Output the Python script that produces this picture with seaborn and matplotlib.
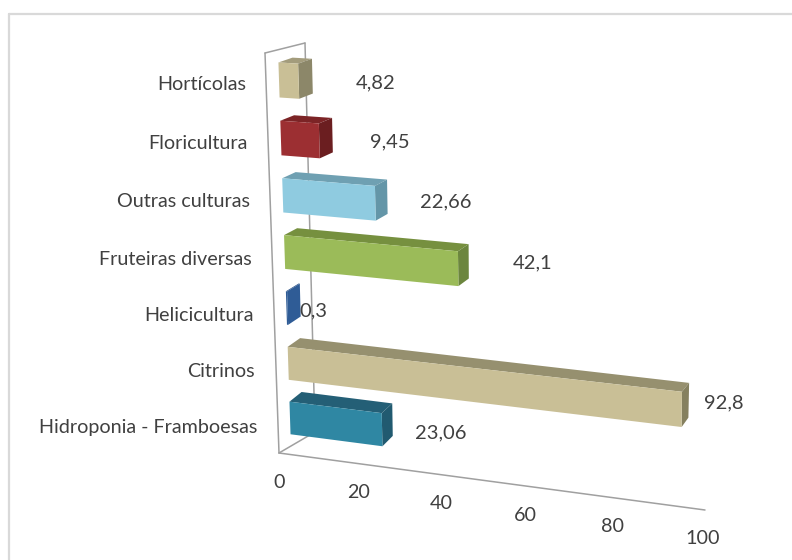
import numpy as np
import pandas as pd
import matplotlib
matplotlib.use('Agg')
import matplotlib.pyplot as plt
import seaborn as sns
from matplotlib.lines import Line2D
from matplotlib.patches import Polygon
from matplotlib.transforms import Affine2D, Transform

# values
categorias = ['Hortícolas', 'Floricultura', 'Outras culturas', 'Fruteiras diversas',
              'Helicicultura', 'Citrinos', 'Hidroponia - Framboesas']
valores = [4.82, 9.45, 22.66, 42.1, 0.3, 92.8, 23.06]
rotulos = ['4,82', '9,45', '22,66', '42,1', '0,3', '92,8', '23,06']
ticks = [0, 20, 40, 60, 80, 100]

# styles
cor_frente = ['#C9BF96', '#9C2F32', '#8FCBE0', '#9BBB59', '#2F5C96', '#C9BF96', '#2F87A3']
cor_cima = ['#A39C7C', '#7C2426', '#6FA0B2', '#76903F', '#2A5286', '#96906F', '#245F76']
cor_lado = ['#8C8769', '#6B1E20', '#6496A8', '#6C863E', '#2F5C96', '#85805F', '#215A70']

# label positions, in pixels of the picture
pos_rotulos = [(376, 83), (390, 142), (446, 202), (533, 263), (313, 311), (724, 403), (441, 433)]

W, H = 792, 560
texto = '#404040'


def homografia(src, dst):
    A = []
    for (x, y), (u, v) in zip(src, dst):
        A.append([x, y, 1, 0, 0, 0, -u * x, -u * y])
        A.append([0, 0, 0, x, y, 1, -v * x, -v * y])
    h = np.linalg.solve(np.array(A, float), np.array(dst, float).ravel())
    return np.append(h, 1).reshape(3, 3)


class Perspetiva(Transform):
    input_dims = 2
    output_dims = 2

    def __init__(self, m):
        super().__init__()
        self.m = m

    def transform_non_affine(self, xy):
        p = np.column_stack([xy, np.ones(len(xy))]) @ self.m.T
        p = p[:, :2] / p[:, 2:]
        p[:, 1] = H - p[:, 1]
        return p


# data (value, row) -> picture pixels, for the front and back planes of the bars
cantos = [(0, 0), (0, 6), (100, 0), (100, 6)]
m_frente = homografia(cantos, [(279, 80), (290, 418), (719, 108), (714, 472)])
m_tras = homografia(cantos, [(293, 75), (302, 408), (729, 102), (720, 462)])
frente = Perspetiva(m_frente)
tras = Perspetiva(m_tras)
pixeis = Affine2D().scale(1, -1).translate(0, H)

sns.set_theme(style='white')
plt.rcParams['font.family'] = ['Lato', 'DejaVu Sans']

df = pd.DataFrame({'categoria': categorias, 'valor': valores})

fig = plt.figure(figsize=(W / 100, H / 100), dpi=100)
ax = fig.add_axes([0, 0, 1, 1])
sns.barplot(data=df, x='valor', y='categoria', hue='categoria', order=categorias,
            hue_order=categorias, palette=cor_frente, orient='h', width=0.6,
            legend=False, saturation=1, ax=ax)
ax.set_xlim(0, 100)
ax.axis('off')

# outer border of the picture
for xs, ys in [((9, 9), (H, 14)), ((9, W), (14, 14))]:
    ax.add_line(Line2D(xs, ys, color='#D9D9D9', lw=1.6, transform=pixeis, clip_on=False))

# walls and floor
for xs, ys in [((265, 279), (53, 453)), ((265, 305), (53, 43)), ((305, 315), (43, 432)),
               ((279, 315), (453, 432)), ((279, 705), (453, 510))]:
    ax.add_line(Line2D(xs, ys, color='#A0A0A0', lw=1.1, transform=pixeis, clip_on=False, zorder=1))


def para_pixeis(t, x, y):
    p = t.transform_non_affine(np.array([[x, y]], float))[0]
    return p[0], H - p[1]


for i, bar in enumerate(ax.patches):
    x0, y0, w, h = bar.get_x(), bar.get_y(), bar.get_width(), bar.get_height()
    x1, y1 = x0 + w, y0 + h
    bar.set_transform(frente)
    bar.set_clip_on(False)
    bar.set_linewidth(0)
    bar.set_zorder(3)
    cima = [para_pixeis(frente, x0, y0), para_pixeis(frente, x1, y0),
            para_pixeis(tras, x1, y0), para_pixeis(tras, x0, y0)]
    lado = [para_pixeis(frente, x1, y0), para_pixeis(frente, x1, y1),
            para_pixeis(tras, x1, y1), para_pixeis(tras, x1, y0)]
    ax.add_patch(Polygon(cima, closed=True, fc=cor_cima[i], ec='none', transform=pixeis,
                         clip_on=False, zorder=2))
    ax.add_patch(Polygon(lado, closed=True, fc=cor_lado[i], ec='none', transform=pixeis,
                         clip_on=False, zorder=2))

    # category label, left of the bar
    px, py = para_pixeis(frente, 0, i)
    ax.text(px - 33, py + 5 + i * 0.7, categorias[i], ha='right', va='center', fontsize=14.2,
            color=texto, transform=pixeis, zorder=5)
    ax.text(pos_rotulos[i][0], pos_rotulos[i][1], rotulos[i], ha='center', va='center',
            fontsize=14.5, color=texto, transform=pixeis, zorder=5)

# value axis labels, following the perspective of the floor
for t in ticks:
    s = t / 100
    f = s * 0.927 / (1 - s + s * 0.927)
    ax.text(279 + 424 * f, 482 + 57 * f, str(t), ha='center', va='center', fontsize=14.2,
            color=texto, transform=pixeis, zorder=5)

fig.savefig('out.png', dpi=100)
